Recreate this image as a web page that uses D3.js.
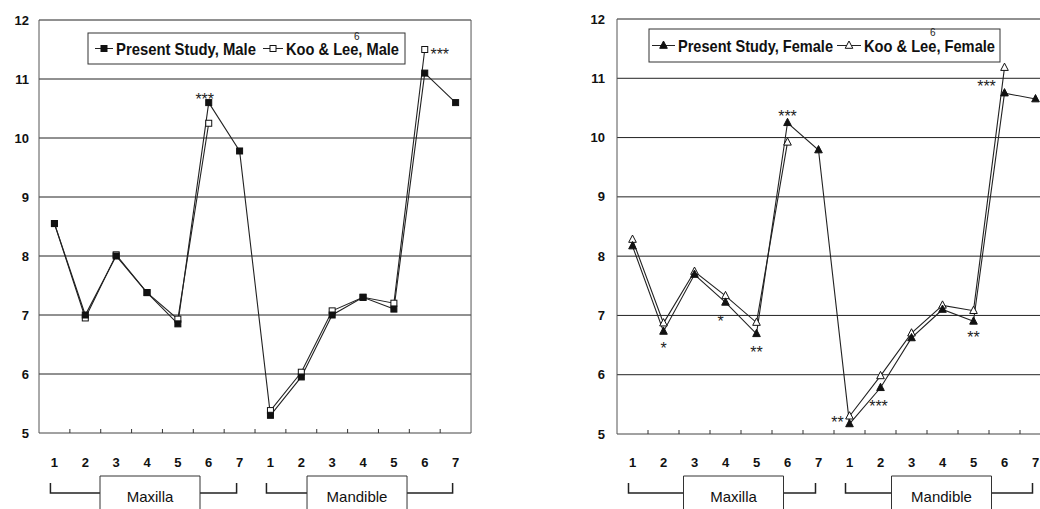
<!DOCTYPE html>
<html>
<head>
<meta charset="utf-8">
<script src="https://cdn.jsdelivr.net/npm/d3@7"></script>
<style>
  body { margin: 0; background: #fff; }
  svg { display: block; }
  .tick-lbl { font-family: "Liberation Sans Narrow", "Arial Narrow", "Liberation Sans", Arial, sans-serif; font-weight: bold; font-size: 13px; fill: #111; }
  .leg-lbl { font-family: "Liberation Sans Narrow", "Arial Narrow", "Liberation Sans", Arial, sans-serif; font-weight: bold; font-size: 17px; fill: #111; }
  .sup { font-family: "Liberation Sans", Arial, sans-serif; font-size: 10px; fill: #222; }
  .star { font-family: "Liberation Sans", Arial, sans-serif; font-size: 16px; fill: #222; }
  .jaw { font-family: "Liberation Sans", Arial, sans-serif; font-size: 15px; fill: #111; }
</style>
</head>
<body>
<script>
// tooth positions, 7 per jaw
const jaws = ["Maxilla", "Mandible"];
const teeth = ["1", "2", "3", "4", "5", "6", "7"];
const yTicks = [5, 6, 7, 8, 9, 10, 11, 12];

const maleStudy = [8.55, 7.0, 8.0, 7.38, 6.85, 10.6, 9.78, 5.3, 5.95, 7.0, 7.3, 7.1, 11.1, 10.6];
const maleKoo   = [8.55, 6.95, 8.02, 7.38, 6.93, 10.25, null, 5.38, 6.03, 7.07, 7.3, 7.2, 11.5, null];
const femaleStudy = [8.17, 6.73, 7.69, 7.22, 6.69, 10.25, 9.79, 5.17, 5.78, 6.62, 7.1, 6.9, 10.75, 10.65];
const femaleKoo   = [8.28, 6.87, 7.74, 7.33, 6.88, 9.92, null, 5.3, 5.98, 6.7, 7.17, 7.08, 11.18, null];

// significance marks: [tooth index, level, text]
const maleStars = [[5, 10.72, "***"], [12, 11.47, "***"]];
const femaleStars = [[1, 6.5, "*"], [3, 6.96, "*"], [4, 6.43, "**"], [5, 10.41, "***"],
                     [7, 5.25, "**"], [8, 5.52, "***"], [11, 6.69, "**"], [12, 10.92, "***"]];

const cats = [];
jaws.forEach(j => teeth.forEach(t => cats.push(j + "-" + t)));

const svg = d3.select("body").append("svg")
    .attr("width", 1040)
    .attr("height", 509);

function marker(g, shape, filled, x, y) {
    if (shape === "square") {
        g.append("rect")
            .attr("x", x - 3).attr("y", y - 3)
            .attr("width", 6).attr("height", 6)
            .attr("fill", filled ? "#111" : "#fff")
            .attr("stroke", "#111").attr("stroke-width", 1);
    } else {
        g.append("path")
            .attr("d", `M${x},${y - 4.5}L${x + 3.8},${y + 2.8}L${x - 3.8},${y + 2.8}Z`)
            .attr("fill", filled ? "#111" : "#fff")
            .attr("stroke", "#111").attr("stroke-width", 1);
    }
}

function panel(o) {
    const x = d3.scaleBand().domain(cats).range([o.left, o.left + o.bw * cats.length]);
    const y = d3.scaleLinear().domain([5, 12]).range([o.bottom, o.top]);
    const cx = i => x(cats[i]) + x.bandwidth() / 2;
    const g = svg.append("g");

    // grid
    g.selectAll(".grid").data(yTicks).enter().append("line")
        .attr("x1", o.left).attr("x2", o.left + o.bw * cats.length)
        .attr("y1", d => y(d)).attr("y2", d => y(d))
        .attr("stroke", d => d === 5 ? "#444" : "#222").attr("stroke-width", 1);
    g.append("line").attr("x1", o.left).attr("x2", o.left)
        .attr("y1", y(12)).attr("y2", y(5)).attr("stroke", "#555");
    g.append("line").attr("x1", o.left + o.bw * cats.length).attr("x2", o.left + o.bw * cats.length)
        .attr("y1", y(12)).attr("y2", y(5)).attr("stroke", "#555");

    // x ticks between categories
    g.selectAll(".xt").data(cats.slice(1)).enter().append("line")
        .attr("x1", d => x(d)).attr("x2", d => x(d))
        .attr("y1", y(5)).attr("y2", y(5) - 4)
        .attr("stroke", "#333");

    // y labels
    g.selectAll(".yl").data(yTicks).enter().append("text")
        .attr("class", "tick-lbl")
        .attr("x", o.left - o.ylPad).attr("y", d => y(d))
        .attr("dy", "0.35em").attr("text-anchor", "end")
        .text(d => d);

    // x labels
    g.selectAll(".xl").data(cats).enter().append("text")
        .attr("class", "tick-lbl")
        .attr("x", d => x(d) + x.bandwidth() / 2).attr("y", 462)
        .attr("dy", "0.35em").attr("text-anchor", "middle")
        .text(d => d.split("-")[1]);

    // series
    const line = d3.line()
        .defined(d => d != null)
        .x((d, i) => cx(i))
        .y(d => y(d));
    [o.koo, o.study].forEach(vals => {
        g.append("path").datum(vals)
            .attr("d", line)
            .attr("fill", "none").attr("stroke", "#222").attr("stroke-width", 1.1);
    });
    [[o.koo, false], [o.study, true]].forEach(([vals, filled]) => {
        vals.forEach((v, i) => { if (v != null) marker(g, o.shape, filled, cx(i), y(v)); });
    });

    // stars
    o.stars.forEach(([i, v, t]) => {
        g.append("text").attr("class", "star")
            .attr("x", cx(i) + (o.starDx[i] || 0)).attr("y", y(v))
            .attr("dy", "0.57em").attr("text-anchor", "middle")
            .text(t);
    });

    // legend
    const L = o.legend;
    g.append("rect").attr("x", L.x).attr("y", L.y).attr("width", L.w).attr("height", L.h)
        .attr("fill", "#fff").attr("stroke", "#333");
    L.items.forEach(it => {
        g.append("line").attr("x1", it.lx).attr("x2", it.lx + it.lw)
            .attr("y1", L.y + L.h / 2).attr("y2", L.y + L.h / 2).attr("stroke", "#222");
        marker(g, o.shape, it.filled, it.lx + it.lw / 2, L.y + L.h / 2);
        g.append("text").attr("class", "leg-lbl")
            .attr("x", it.lx + it.lw + 3).attr("y", L.y + L.h / 2)
            .attr("dy", "0.38em")
            .attr("textLength", it.tw).attr("lengthAdjust", "spacingAndGlyphs")
            .text(it.text);
    });
    g.append("text").attr("class", "sup").attr("x", L.supX).attr("y", L.y + 7).text("6");

    // jaw brackets
    jaws.forEach((j, k) => {
        const a = cx(k * 7) - 4, b = cx(k * 7 + 6) - 3;
        const mid = (x(cats[k * 7]) + x(cats[k * 7 + 6]) + x.bandwidth()) / 2 + o.boxDx[k];
        const bx0 = mid - 50, bx1 = mid + 50;
        g.append("path")
            .attr("d", `M${a},483V493H${bx0}M${bx1},493H${b}V483`)
            .attr("fill", "none").attr("stroke", "#222").attr("stroke-width", 1.5);
        g.append("path")
            .attr("d", `M${bx0},512V476H${bx1}V512`)
            .attr("fill", "none").attr("stroke", "#333").attr("stroke-width", 1);
        g.append("text").attr("class", "jaw")
            .attr("x", mid).attr("y", 497).attr("dy", "0.35em")
            .attr("text-anchor", "middle").text(j);
    });
}

panel({
    left: 39, top: 20, bottom: 433, bw: 30.86, ylPad: 10,
    study: maleStudy, koo: maleKoo, shape: "square",
    stars: maleStars, starDx: {5: -4, 12: 15},
    boxDx: [3, -6],
    legend: {
        x: 88, y: 33, w: 317, h: 31, supX: 354,
        items: [
            {lx: 95, lw: 18, filled: true, text: "Present Study, Male", tw: 140},
            {lx: 263, lw: 20, filled: false, text: "Koo & Lee, Male", tw: 113}
        ]
    }
});

panel({
    left: 617, top: 19, bottom: 434, bw: 31, ylPad: 12,
    study: femaleStudy, koo: femaleKoo, shape: "tri",
    stars: femaleStars, starDx: {3: -5, 7: -12, 8: -2, 12: -18},
    boxDx: [8, -1],
    legend: {
        x: 649, y: 29, w: 351, h: 33, supX: 930,
        items: [
            {lx: 652, lw: 23, filled: true, text: "Present Study, Female", tw: 155},
            {lx: 837, lw: 24, filled: false, text: "Koo & Lee, Female", tw: 131}
        ]
    }
});
</script>
</body>
</html>
